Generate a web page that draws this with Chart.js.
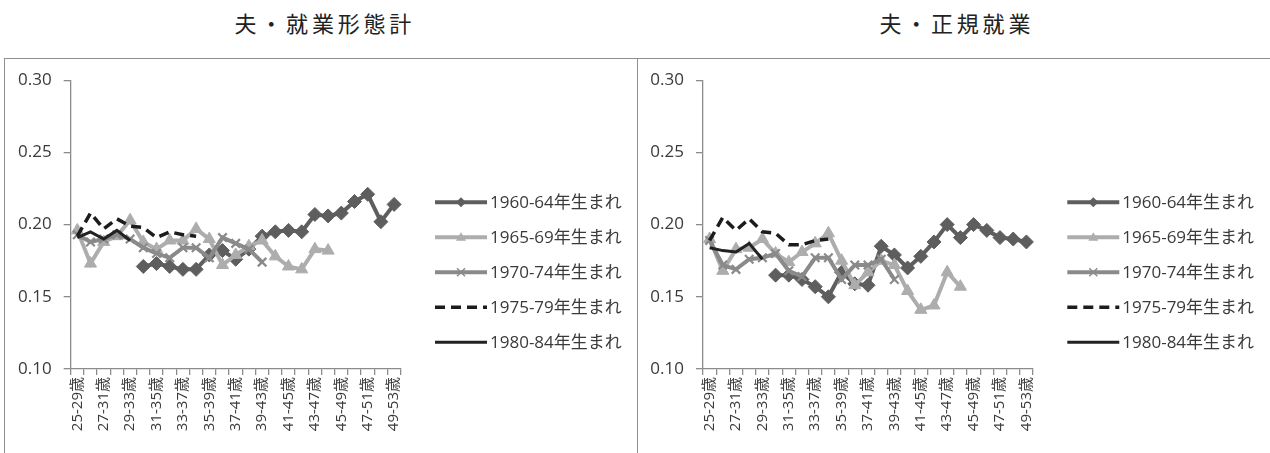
<!DOCTYPE html>
<html><head><meta charset="utf-8">
<script src="https://cdn.jsdelivr.net/npm/chart.js@4.4.1/dist/chart.umd.min.js"></script>
<style>
html,body{margin:0;padding:0;background:#fff;width:1270px;height:453px;overflow:hidden;position:relative;font-family:"Noto Sans CJK JP",sans-serif;}
.title{position:absolute;top:7px;font-size:22px;letter-spacing:3.8px;padding-left:3.8px;color:#222;text-align:center;width:400px;line-height:30px;}
.panel{position:absolute;top:58px;height:420px;border:1.5px solid #8f8f8f;box-sizing:border-box;}
canvas{position:absolute;top:58px;}
</style></head>
<body>
<div class="title" style="left:121px">夫・就業形態計</div>
<div class="title" style="left:753px">夫・正規就業</div>
<div class="panel" style="left:4px;width:634px"></div>
<div class="panel" style="left:636.5px;width:640px"></div>
<canvas id="c1" width="637" height="395" style="left:0"></canvas>
<canvas id="c2" width="633" height="395" style="left:637px"></canvas>
<script>
// ---- data ----
const categories = ['25-29歳','26-30歳','27-31歳','28-32歳','29-33歳','30-34歳','31-35歳','32-36歳','33-37歳','34-38歳',
  '35-39歳','36-40歳','37-41歳','38-42歳','39-43歳','40-44歳','41-45歳','42-46歳','43-47歳','44-48歳',
  '45-49歳','46-50歳','47-51歳','48-52歳','49-53歳'];
const cohorts = ['1960-64年生まれ','1965-69年生まれ','1970-74年生まれ','1975-79年生まれ','1980-84年生まれ'];
const yTickValues = [0.10, 0.15, 0.20, 0.25, 0.30];

// 夫・就業形態計
const total1960 = [null,null,null,null,null,0.171,0.173,0.171,0.169,0.169,0.179,0.182,0.176,0.183,0.192,0.195,0.196,0.195,0.207,0.206,0.208,0.216,0.221,0.202,0.214];
const total1965 = [0.196,0.173,0.188,0.192,0.203,0.188,0.183,0.189,0.189,0.197,0.190,0.172,0.179,0.185,0.189,0.178,0.171,0.169,0.183,0.182];
const total1970 = [0.193,0.188,0.190,0.193,0.190,0.184,0.180,0.177,0.184,0.184,0.177,0.191,0.187,0.183,0.174];
const total1975 = [0.192,0.208,0.197,0.204,0.199,0.198,0.191,0.195,0.193,0.192];
const total1980 = [0.191,0.195,0.190,0.196,0.189];

// 夫・正規就業
const regular1960 = [null,null,null,null,null,0.165,0.165,0.162,0.157,0.150,0.167,0.159,0.158,0.185,0.179,0.170,0.178,0.188,0.200,0.191,0.200,0.196,0.191,0.190,0.188];
const regular1965 = [0.190,0.168,0.183,0.184,0.190,0.180,0.174,0.181,0.187,0.194,0.175,0.158,0.167,0.175,0.172,0.154,0.141,0.144,0.167,0.157];
const regular1970 = [0.189,0.172,0.169,0.176,0.177,0.180,0.168,0.164,0.177,0.177,0.162,0.172,0.172,0.176,0.162];
const regular1975 = [0.189,0.205,0.196,0.204,0.195,0.194,0.186,0.186,0.189,0.190];
const regular1980 = [0.184,0.182,0.181,0.187,0.176];

// ---- styles ----
const styles = [
  {color:'#5e5e5e', width:4,   dash:[],     point:'rectRot',  radius:7, pbw:1,   lr:5},
  {color:'#adadad', width:4,   dash:[],     point:'triangle', radius:7, pbw:1,   lr:5},
  {color:'#8a8a8a', width:4,   dash:[],     point:'crossRot', radius:6, pbw:2.2, lr:5},
  {color:'#1c1c1c', width:3.5, dash:[10,6], point:'circle',   radius:0, pbw:0,   lr:0},
  {color:'#222222', width:3,   dash:[],     point:'circle',   radius:0, pbw:0,   lr:0}
];

const TICK_FONT = {family:'"Open Sans","Noto Sans CJK JP",sans-serif', size:17};
const XTICK_FONT = {family:'"Open Sans","Noto Sans CJK JP",sans-serif', size:15};
const AXIS_COLOR = '#8c8c8c';

function drawMarker(ctx, type, x, y, r, fill, stroke, bw){
  if (!r) return;
  ctx.save();
  ctx.fillStyle = fill; ctx.strokeStyle = stroke; ctx.lineWidth = bw;
  ctx.beginPath();
  if (type === 'rectRot'){
    ctx.moveTo(x, y - r); ctx.lineTo(x + r, y); ctx.lineTo(x, y + r); ctx.lineTo(x - r, y); ctx.closePath();
    ctx.fill();
  } else if (type === 'triangle'){
    ctx.moveTo(x, y - r); ctx.lineTo(x + r, y + r*0.7); ctx.lineTo(x - r, y + r*0.7); ctx.closePath();
    ctx.fill();
  } else if (type === 'crossRot'){
    ctx.moveTo(x - r*0.8, y - r*0.8); ctx.lineTo(x + r*0.8, y + r*0.8);
    ctx.moveTo(x + r*0.8, y - r*0.8); ctx.lineTo(x - r*0.8, y + r*0.8);
    ctx.lineWidth = 1.5; ctx.stroke();
  }
  ctx.restore();
}

const sideLegend = {
  id: 'sideLegend',
  afterDraw(chart, args, opts){
    const ctx = chart.ctx, ca = chart.chartArea;
    chart.data.datasets.forEach((ds, i) => {
      const st = styles[i];
      const x0 = ca.right + opts.dx, x1 = x0 + opts.len, y = ca.top + opts.dy + i * opts.gap;
      ctx.save();
      ctx.strokeStyle = st.color; ctx.lineWidth = st.width; ctx.setLineDash(st.dash);
      ctx.beginPath(); ctx.moveTo(x0, y); ctx.lineTo(x1, y); ctx.stroke();
      ctx.setLineDash([]);
      drawMarker(ctx, st.point, (x0 + x1) / 2, y, st.lr, st.color, st.color, st.pbw);
      ctx.fillStyle = '#3a3a3a';
      ctx.font = '17px "Open Sans","Noto Sans CJK JP",sans-serif';
      ctx.textBaseline = 'middle'; ctx.textAlign = 'left';
      ctx.fillText(ds.label, x1 + 3, y + 1);
      ctx.restore();
    });
  }
};

function makeChart(id, series, axisLeft, axisRight){
  const canvas = document.getElementById(id);
  const W = canvas.width;
  const datasets = series.map((data, i) => {
    const st = styles[i];
    return {
      label: cohorts[i], data: data,
      borderColor: st.color, backgroundColor: st.color,
      borderWidth: st.width, borderDash: st.dash,
      pointStyle: st.point, pointRadius: st.radius, pointHoverRadius: st.radius,
      pointBackgroundColor: st.color, pointBorderColor: st.color, pointBorderWidth: st.pbw,
      tension: 0, spanGaps: false, fill: false,
      order: 5 - i
    };
  });
  return new Chart(canvas, {
    type: 'line',
    data: {labels: categories, datasets},
    options: {
      responsive: false, animation: false, devicePixelRatio: 1,
      layout: {padding: {left: 0, top: 22, right: W - axisRight, bottom: 0}},
      plugins: {legend: {display: false}, tooltip: {enabled: false},
        sideLegend: {dx: 34.3, len: 52, dy: 122, gap: 35}},
      scales: {
        x: {
          type: 'category', offset: true,
          grid: {offset: true, drawOnChartArea: false, drawTicks: true, tickLength: 6, color: AXIS_COLOR, lineWidth: 1.3},
          border: {display: true, color: AXIS_COLOR, width: 1.3},
          ticks: {autoSkip: false, minRotation: 90, maxRotation: 90, padding: 2, color: '#3a3a3a', font: XTICK_FONT,
            callback: (v, i) => (i % 2 === 0 ? categories[i] : '')},
          afterFit: s => { s.height = 84; }
        },
        y: {
          min: yTickValues[0], max: yTickValues[yTickValues.length - 1],
          grid: {drawOnChartArea: false, drawTicks: true, tickLength: 7, color: AXIS_COLOR, lineWidth: 1.3},
          border: {display: true, color: AXIS_COLOR, width: 1.3},
          afterBuildTicks: s => { s.ticks = yTickValues.map(v => ({value: v})); },
          ticks: {padding: 12, color: '#3a3a3a', font: TICK_FONT, callback: v => Number(v).toFixed(2)},
          afterFit: s => { s.width = axisLeft; }
        }
      }
    },
    plugins: [sideLegend]
  });
}

makeChart('c1', [total1960, total1965, total1970, total1975, total1980], 70.7, 400.7);
makeChart('c2', [regular1960, regular1965, regular1970, regular1975, regular1980], 66, 396);
</script>
</body></html>
